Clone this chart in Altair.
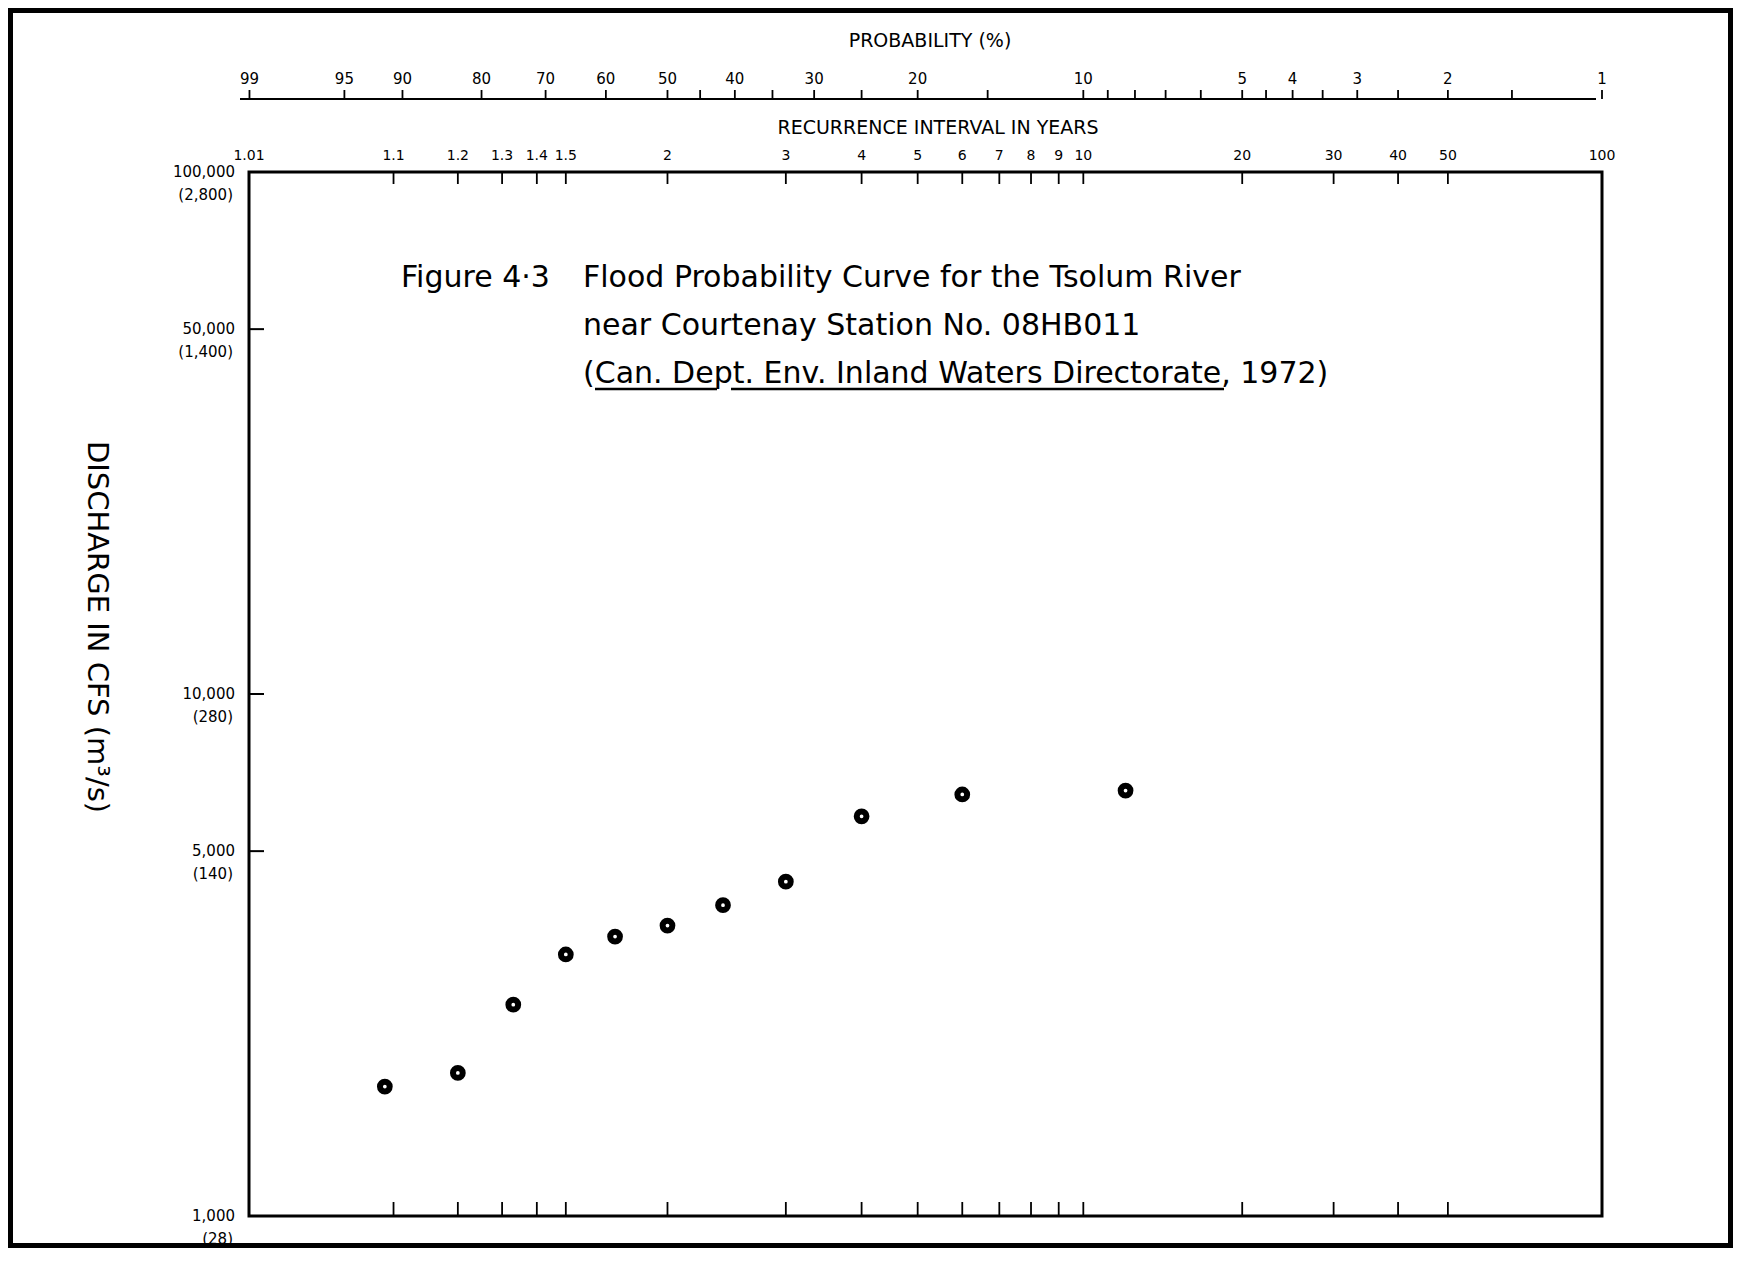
import math
import altair as alt
import pandas as pd

# ---------------- data ----------------
recurrence_years = [1.09, 1.2, 1.33, 1.5, 1.71, 2.0, 2.4, 3.0, 4.0, 6.0, 12.0]
discharge_cfs = [1770, 1880, 2540, 3170, 3430, 3600, 3940, 4370, 5830, 6420, 6530]

ri_tick_values = [1.1, 1.2, 1.3, 1.4, 1.5, 2, 3, 4, 5, 6, 7, 8, 9, 10, 20, 30, 40, 50]
ri_label_values = [1.01, 1.1, 1.2, 1.3, 1.4, 1.5, 2, 3, 4, 5, 6, 7, 8, 9, 10, 20, 30, 40, 50, 100]
ri_label_text = ["1.01", "1.1", "1.2", "1.3", "1.4", "1.5", "2", "3", "4", "5", "6", "7", "8",
                 "9", "10", "20", "30", "40", "50", "100"]
prob_label_values = [99, 95, 90, 80, 70, 60, 50, 40, 30, 20, 10, 5, 4, 3, 2, 1]
prob_label_text = ["99", "95", "90", "80", "70", "60", "50", "40", "30", "20", "10", "5", "4",
                   "3", "2", "1"]
prob_minor_values = [45, 35, 25, 15, 9, 8, 7, 6, 4.5, 3.5, 2.5, 1.5]
q_tick_values = [5000, 10000, 50000]
q_label_values = [1000, 5000, 10000, 50000, 100000]
q_label_cfs = ["1,000", "5,000", "10,000", "50,000", "100,000"]
q_label_cms = ["(28)", "(140)", "(280)", "(1,400)", "(2,800)"]

title_fig = "Figure 4·3"
title_lines = ["Flood Probability Curve for the Tsolum River",
               "near Courtenay Station No. 08HB011",
               "(Can. Dept. Env. Inland Waters Directorate, 1972)"]

FONT = "DejaVu Sans"
W, H = 1353, 1044


def gumbel(t):
    return -math.log(-math.log(1 - 1 / t))


xscale = alt.Scale(domain=[gumbel(1.01), gumbel(100)], nice=False, zero=False)
yscale = alt.Scale(type="log", domain=[1000, 100000], nice=False)
X = alt.X("g:Q", scale=xscale, axis=None)
Y = alt.Y("Q:Q", scale=yscale, axis=None)
GT = "-log(-log(1 - 1/datum.T))"
GP = "-log(-log(1 - datum.P/100))"

pts_df = pd.DataFrame({"T": recurrence_years, "Q": discharge_cfs})
ri_ticks_df = pd.DataFrame({"T": ri_tick_values})
ri_lab_df = pd.DataFrame({"T": ri_label_values, "lab": ri_label_text})
p_lab_df = pd.DataFrame({"P": prob_label_values, "lab": prob_label_text})
p_all_df = pd.DataFrame({"P": prob_label_values + prob_minor_values})
q_ticks_df = pd.DataFrame({"Q": q_tick_values})
q_lab_df = pd.DataFrame({"Q": q_label_values, "cfs": q_label_cfs, "cms": q_label_cms})
one = alt.Data(values=[{"a": 1}])

points = alt.Chart(pts_df).transform_calculate(g=GT).mark_point(
    shape="circle", filled=False, stroke="black", strokeWidth=6, size=95, opacity=1
).encode(x=X, y=Y)

top_ticks = alt.Chart(ri_ticks_df).transform_calculate(g=GT).mark_rule(
    color="black", strokeWidth=1.8
).encode(x=X, y=alt.value(0), y2=alt.value(12))

bot_ticks = alt.Chart(ri_ticks_df).transform_calculate(g=GT).mark_rule(
    color="black", strokeWidth=1.8
).encode(x=X, y=alt.value(H), y2=alt.value(H - 14))

ri_labels = alt.Chart(ri_lab_df).transform_calculate(g=GT).mark_text(
    font=FONT, fontSize=14, color="black", baseline="middle", align="center"
).encode(x=X, y=alt.value(-16), text="lab:N")

p_ticks = alt.Chart(p_all_df).transform_calculate(g=GP).mark_rule(
    color="black", strokeWidth=1.8
).encode(x=X, y=alt.value(-73), y2=alt.value(-82))

p_labels = alt.Chart(p_lab_df).transform_calculate(g=GP).mark_text(
    font=FONT, fontSize=15, color="black", baseline="middle", align="center"
).encode(x=X, y=alt.value(-93), text="lab:N")

p_line = alt.Chart(one).mark_rule(color="black", strokeWidth=2.2).encode(
    x=alt.value(-9), x2=alt.value(W - 6), y=alt.value(-73)
)

q_ticks = alt.Chart(q_ticks_df).mark_rule(color="black", strokeWidth=2).encode(
    y=Y, x=alt.value(0), x2=alt.value(15)
)

q_lab1 = alt.Chart(q_lab_df).mark_text(
    font=FONT, fontSize=15, color="black", baseline="middle", align="right"
).encode(y=Y, x=alt.value(-14), text="cfs:N")

q_lab2 = alt.Chart(q_lab_df).mark_text(
    font=FONT, fontSize=15, color="black", baseline="middle", align="right", dy=23
).encode(y=Y, x=alt.value(-16), text="cms:N")

ytitle = alt.Chart(one).mark_text(
    font=FONT, fontSize=29, color="black", angle=90, align="center", baseline="middle",
    text="DISCHARGE IN CFS (m³/s)"
).encode(x=alt.value(-152), y=alt.value(455))

prob_title = alt.Chart(one).mark_text(
    font=FONT, fontSize=19, color="black", align="center", baseline="middle",
    text="PROBABILITY (%)"
).encode(x=alt.value(681), y=alt.value(-131))

ri_title = alt.Chart(one).mark_text(
    font=FONT, fontSize=19, color="black", align="center", baseline="middle",
    text="RECURRENCE INTERVAL IN YEARS"
).encode(x=alt.value(689), y=alt.value(-44))

fig_lab = alt.Chart(one).mark_text(
    font=FONT, fontSize=30, color="black", align="left", baseline="alphabetic", text=title_fig
).encode(x=alt.value(152), y=alt.value(115))

title_layers = []
for i, line in enumerate(title_lines):
    title_layers.append(
        alt.Chart(one).mark_text(
            font=FONT, fontSize=30, color="black", align="left", baseline="alphabetic", text=line
        ).encode(x=alt.value(334), y=alt.value(115 + 48 * i))
    )

ul1 = alt.Chart(one).mark_rule(color="black", strokeWidth=2.5).encode(
    x=alt.value(346), x2=alt.value(468), y=alt.value(217)
)
ul2 = alt.Chart(one).mark_rule(color="black", strokeWidth=2.5).encode(
    x=alt.value(482), x2=alt.value(975), y=alt.value(217)
)

border = alt.Chart(one).mark_rect(
    fillOpacity=0, stroke="black", strokeWidth=5
).encode(x=alt.value(-238.5), x2=alt.value(1481.5), y=alt.value(-161.5), y2=alt.value(1073.5))

chart = alt.layer(
    border, p_line, p_ticks, p_labels, prob_title, ri_title, ri_labels,
    top_ticks, bot_ticks, q_ticks, q_lab1, q_lab2, ytitle, fig_lab, *title_layers,
    ul1, ul2, points
).properties(
    width=W, height=H,
    autosize=alt.AutoSizeParams(type="none"),
    padding={"left": 241, "top": 164, "right": 131, "bottom": 32},
    background="white",
).configure_view(stroke="black", strokeWidth=3)

chart.save("out.html", embed_options={"renderer": "svg", "actions": False})
